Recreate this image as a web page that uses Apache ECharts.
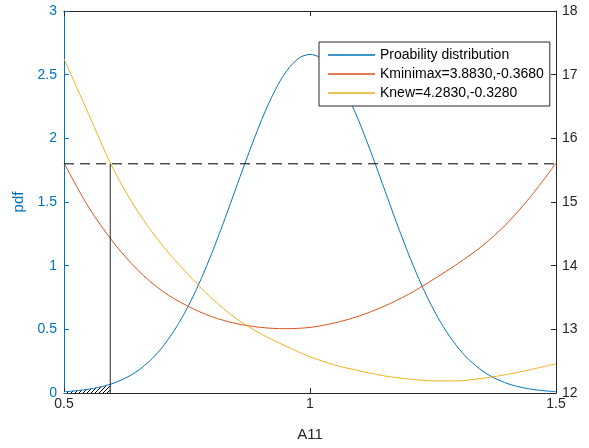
<!DOCTYPE html>
<html>
<head>
<meta charset="utf-8">
<script src="https://cdn.jsdelivr.net/npm/echarts@6/dist/echarts.min.js"></script>
<style>
  html, body { margin: 0; padding: 0; background: #fff; }
  #main { width: 589px; height: 448px; }
</style>
</head>
<body>
<div id="main"></div>
<script>
// probability distribution (left axis)
const pdfX = [0.5, 0.52, 0.54, 0.56, 0.58, 0.6, 0.62, 0.64, 0.66, 0.68, 0.7, 0.72, 0.74, 0.76, 0.78,
  0.8, 0.82, 0.84, 0.86, 0.88, 0.9, 0.92, 0.94, 0.96, 0.98, 1.0, 1.02, 1.04, 1.06, 1.08, 1.1,
  1.12, 1.14, 1.16, 1.18, 1.2, 1.22, 1.24, 1.26, 1.28, 1.3, 1.32, 1.34, 1.36, 1.38, 1.4, 1.42,
  1.44, 1.46, 1.48, 1.5];
const pdfVals = [0.010, 0.016, 0.024, 0.036, 0.053, 0.076, 0.108, 0.149, 0.204, 0.273, 0.360,
  0.466, 0.592, 0.739, 0.907, 1.094, 1.295, 1.506, 1.721, 1.931, 2.130, 2.307, 2.455, 2.567,
  2.637, 2.660, 2.637, 2.567, 2.455, 2.307, 2.130, 1.931, 1.721, 1.506, 1.295, 1.094, 0.907,
  0.739, 0.592, 0.466, 0.360, 0.273, 0.204, 0.149, 0.108, 0.076, 0.053, 0.036, 0.024, 0.016, 0.010];

// K curves (right axis)
const kX = [0.5, 0.55, 0.6, 0.65, 0.7, 0.75, 0.8, 0.85, 0.9, 0.95, 1.0, 1.05, 1.1, 1.15, 1.2,
  1.25, 1.3, 1.35, 1.4, 1.45, 1.5];
const kminimaxVals = [15.61, 14.92, 14.37, 13.93, 13.60, 13.37, 13.20, 13.09, 13.03, 13.01, 13.03,
  13.10, 13.21, 13.36, 13.55, 13.78, 14.03, 14.31, 14.66, 15.10, 15.61];
const knewVals = [17.25, 16.38, 15.52, 14.85, 14.32, 13.88, 13.49, 13.17, 12.93, 12.74, 12.57,
  12.44, 12.35, 12.27, 12.22, 12.19, 12.19, 12.23, 12.29, 12.37, 12.46];

// threshold lines
const level = 1.8;
const cutX = 0.594;
const cutPdf = 0.068;

const names = ["Proability distribution", "Kminimax=3.8830,-0.3680", "Knew=4.2830,-0.3280"];
const blue = "#0072BD";
const axisGray = "#262626";
const font = "Liberation Sans, Arial, sans-serif";

const pair = (xs, ys) => xs.map((x, i) => [x, ys[i]]);

// hatched fill under the pdf left of the cut
const hatch = document.createElement("canvas");
hatch.width = 4;
hatch.height = 4;
const hctx = hatch.getContext("2d");
hctx.fillStyle = "#fff";
hctx.fillRect(0, 0, 4, 4);
hctx.strokeStyle = "#000";
hctx.lineWidth = 1;
hctx.beginPath();
hctx.moveTo(0, 4);
hctx.lineTo(4, 0);
hctx.stroke();

const hatchData = pair(pdfX, pdfVals).filter((p) => p[0] < cutX).concat([[cutX, cutPdf]]);

const chart = echarts.init(document.getElementById("main"));

chart.setOption({
  animation: false,
  grid: { left: 64, right: 33, top: 11, bottom: 55 },
  legend: {
    data: names,
    orient: "vertical",
    left: 319,
    top: 42,
    padding: [6, 6, 6, 9],
    itemGap: 5,
    itemWidth: 47,
    itemHeight: 1.5,
    icon: "rect",
    backgroundColor: "#fff",
    borderColor: axisGray,
    borderWidth: 1,
    borderRadius: 0,
    textStyle: { fontFamily: font, fontSize: 14, color: "#000" },
  },
  xAxis: [
    {
      type: "value",
      min: 0.5,
      max: 1.5,
      interval: 0.5,
      name: "A11",
      nameLocation: "middle",
      nameGap: 34,
      nameTextStyle: { fontFamily: font, fontSize: 15, color: axisGray },
      axisLine: { show: true, onZero: false, lineStyle: { color: axisGray } },
      axisTick: { inside: true, length: 5, lineStyle: { color: axisGray } },
      axisLabel: { margin: 4, fontFamily: font, fontSize: 14, color: axisGray },
      splitLine: { show: false },
    },
    {
      type: "value",
      position: "top",
      min: 0.5,
      max: 1.5,
      interval: 0.5,
      axisLine: { show: true, onZero: false, lineStyle: { color: axisGray } },
      axisTick: { inside: true, length: 5, lineStyle: { color: axisGray } },
      axisLabel: { show: false },
      splitLine: { show: false },
    },
  ],
  yAxis: [
    {
      type: "value",
      position: "left",
      min: 0,
      max: 3,
      interval: 0.5,
      name: "pdf",
      nameLocation: "middle",
      nameGap: 36,
      nameTextStyle: { fontFamily: font, fontSize: 15, color: blue },
      axisLine: { show: true, lineStyle: { color: blue } },
      axisTick: { show: true, inside: true, length: 5, lineStyle: { color: blue } },
      axisLabel: { margin: 7, fontFamily: font, fontSize: 14, color: blue },
      splitLine: { show: false },
    },
    {
      type: "value",
      position: "right",
      min: 12,
      max: 18,
      interval: 1,
      axisLine: { show: true, lineStyle: { color: axisGray } },
      axisTick: { show: true, inside: true, length: 5, lineStyle: { color: axisGray } },
      axisLabel: { margin: 6, fontFamily: font, fontSize: 14, color: axisGray },
      splitLine: { show: false },
    },
  ],
  series: [
    {
      name: "hatch",
      type: "line",
      yAxisIndex: 0,
      data: hatchData,
      symbol: "none",
      silent: true,
      lineStyle: { width: 0 },
      areaStyle: { color: { image: hatch, repeat: "repeat" }, opacity: 1 },
      z: 1,
    },
    {
      name: names[0],
      type: "line",
      yAxisIndex: 0,
      data: pair(pdfX, pdfVals),
      symbol: "none",
      smooth: 0.2,
      color: blue,
      lineStyle: { width: 1, color: blue },
      z: 3,
    },
    {
      name: names[1],
      type: "line",
      yAxisIndex: 1,
      data: pair(kX, kminimaxVals),
      symbol: "none",
      smooth: 0.3,
      color: "#D95319",
      lineStyle: { width: 1, color: "#D95319" },
      z: 3,
    },
    {
      name: names[2],
      type: "line",
      yAxisIndex: 1,
      data: pair(kX, knewVals),
      symbol: "none",
      smooth: 0.3,
      color: "#EDB120",
      lineStyle: { width: 1, color: "#EDB120" },
      z: 3,
    },
    {
      name: "level",
      type: "line",
      yAxisIndex: 0,
      data: [[0.5, level], [1.5, level]],
      symbol: "none",
      silent: true,
      lineStyle: { width: 1, color: "#000", type: [10, 6] },
      z: 4,
    },
    {
      name: "cut",
      type: "line",
      yAxisIndex: 0,
      data: [[cutX, 0], [cutX, level]],
      symbol: "none",
      silent: true,
      lineStyle: { width: 1, color: axisGray },
      z: 4,
    },
  ],
});
</script>
</body>
</html>
